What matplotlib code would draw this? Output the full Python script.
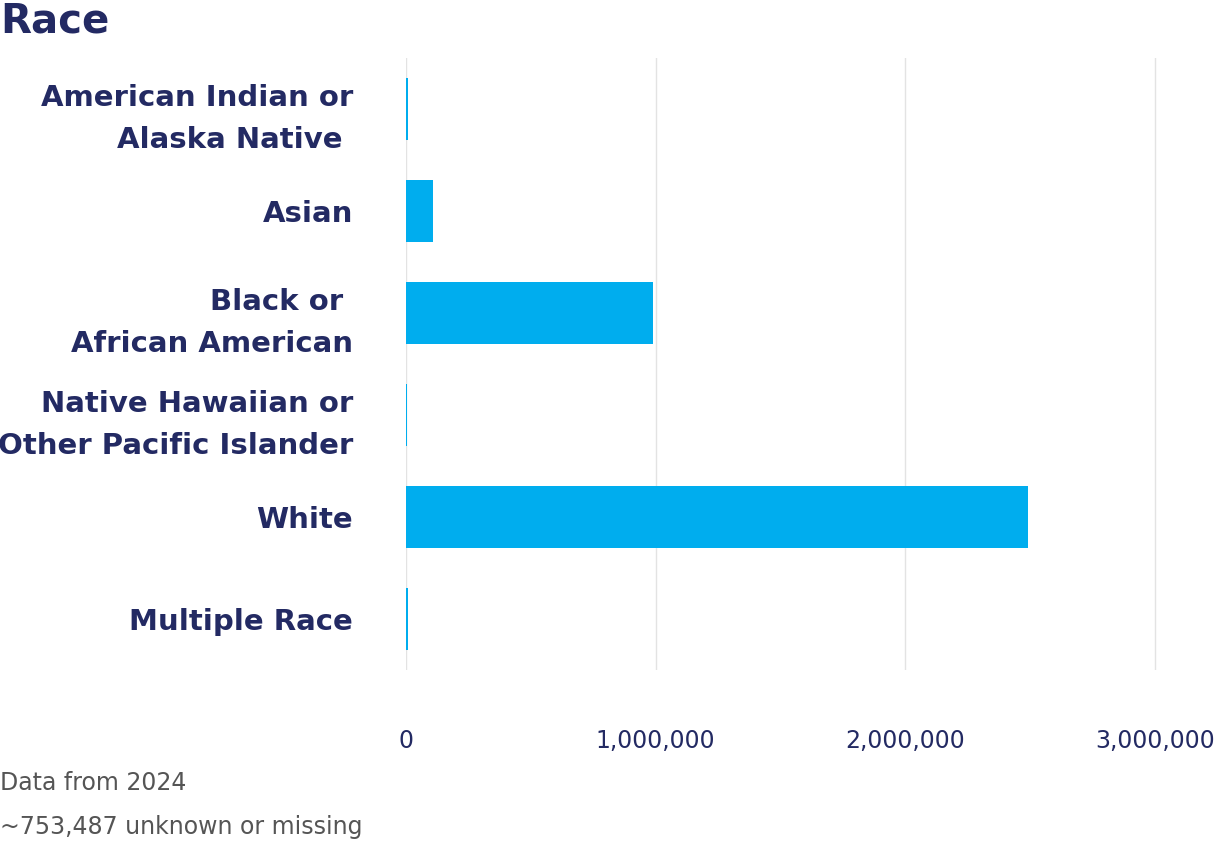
import matplotlib
matplotlib.use("Agg")
import matplotlib.pyplot as plt
from matplotlib.ticker import FuncFormatter

categories = ["American Indian or\nAlaska Native ", "Asian", "Black or \nAfrican American",
              "Native Hawaiian or\nOther Pacific Islander", "White", "Multiple Race"]
values = [10000, 108000, 990000, 3000, 2493000, 10000]
ticks = [0, 1000000, 2000000, 3000000]

navy = "#232a63"
bar_color = "#00adee"

fig = plt.figure(figsize=(12.3, 8.41), dpi=100)
ax = fig.add_axes([0.330, 0.203, 0.670, 0.728])

ax.barh(range(len(categories)), values, height=0.61, color=bar_color)
ax.set_ylim(len(categories) - 0.5, -0.5)
ax.set_xlim(0, 3300000)
ax.set_yticks(range(len(categories)))
ax.set_yticklabels(categories, fontsize=21, fontweight="bold", color=navy, linespacing=1.65)
ax.set_xticks(ticks)
ax.xaxis.set_major_formatter(FuncFormatter(lambda v, p: f"{int(v):,}"))
for lbl in ax.get_xticklabels():
    lbl.set_fontsize(17)
    lbl.set_color(navy)
ax.tick_params(axis="both", length=0)
ax.tick_params(axis="x", pad=42)
ax.tick_params(axis="y", pad=38)
ax.grid(axis="x", color="#e3e3e3", linewidth=1)
ax.set_axisbelow(True)
for s in ax.spines.values():
    s.set_visible(False)

fig.text(0.0, 0.975, "Race", fontsize=29, fontweight="bold", color=navy, va="center", ha="left")
fig.text(0.0, 0.069, "Data from 2024", fontsize=17, color="#555555", va="center")
fig.text(0.0, 0.017, "~753,487 unknown or missing", fontsize=17, color="#555555", va="center")

fig.savefig("out.png", dpi=100)
